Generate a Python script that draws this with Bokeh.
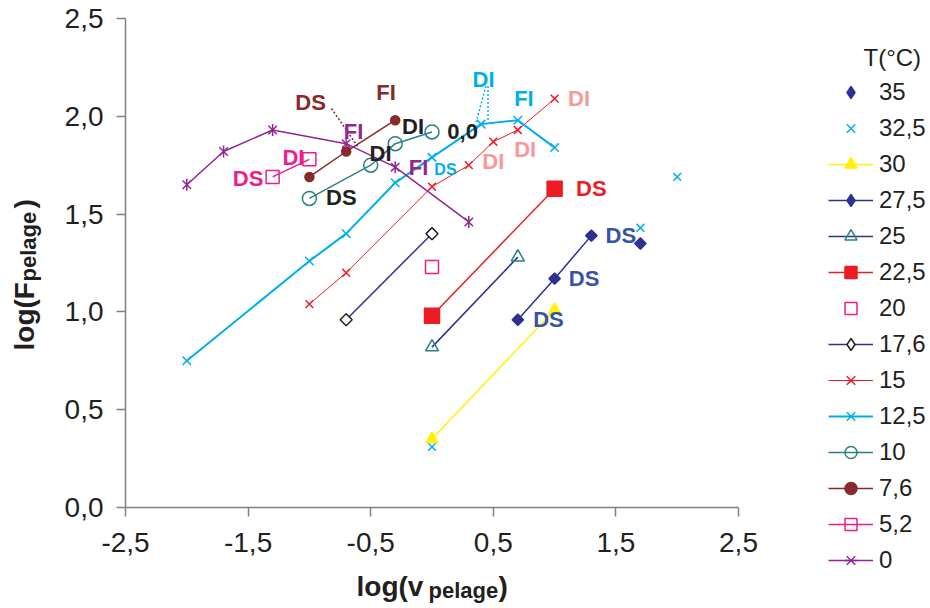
import math
from bokeh.plotting import figure
from bokeh.models import Range1d, FixedTicker, Legend, LegendItem, Label, ColumnDataSource
from bokeh.core.properties import value
from bokeh.embed import file_html
from bokeh.resources import INLINE

# ---------------- data ----------------
x_35 = [1.7];                 y_35 = [1.35]
x_325 = [0.0, 1.7, 2.0];      y_325 = [0.31, 1.43, 1.69]
x_30 = [0.0, 1.0];            y_30 = [0.35, 1.01]
x_275 = [0.7, 1.0, 1.3];      y_275 = [0.96, 1.17, 1.39]
x_25 = [0.0, 0.7];            y_25 = [0.82, 1.28]
x_225 = [0.0, 1.0];           y_225 = [0.98, 1.63]
x_20 = [0.0];                 y_20 = [1.23]
x_176 = [-0.7, 0.0];          y_176 = [0.96, 1.40]
x_15 = [-1.0, -0.7, 0.0, 0.3, 0.5, 0.7, 1.0]
y_15 = [1.04, 1.20, 1.64, 1.75, 1.87, 1.93, 2.09]
x_125 = [-2.0, -1.0, -0.7, -0.3, 0.0, 0.4, 0.7, 1.0]
y_125 = [0.75, 1.26, 1.40, 1.66, 1.79, 1.96, 1.98, 1.84]
x_10 = [-1.0, -0.5, -0.3, 0.0];   y_10 = [1.58, 1.75, 1.86, 1.92]
x_76 = [-1.0, -0.7, -0.3];        y_76 = [1.69, 1.82, 1.98]
x_52 = [-1.3, -1.0];              y_52 = [1.69, 1.78]
x_0 = [-2.0, -1.7, -1.3, -0.7, -0.3, 0.3]
y_0 = [1.65, 1.82, 1.93, 1.86, 1.74, 1.46]

x_ticks = [-2.5, -1.5, -0.5, 0.5, 1.5, 2.5]
x_tick_labels = ["-2,5", "-1,5", "-0,5", "0,5", "1,5", "2,5"]
y_ticks = [0.0, 0.5, 1.0, 1.5, 2.0, 2.5]
y_tick_labels = ["0,0", "0,5", "1,0", "1,5", "2,0", "2,5"]

# annotation labels
ann_x = [-0.99, -0.375, -0.155, 0.25, -0.64, -0.42, -0.11, -0.74, -1.13, -1.50,
         0.42, 0.75, 1.20, 0.76, 0.50, 1.30, 1.54, 1.24, 0.95]
ann_y = [2.07, 2.12, 1.95, 1.92, 1.92, 1.81, 1.74, 1.585, 1.79, 1.68,
         2.19, 2.09, 2.09, 1.83, 1.77, 1.63, 1.39, 1.17, 0.96]
ann_text = ["DS", "FI", "DI", "0,0", "FI", "DI", "FI", "DS", "DI", "DS",
            "DI", "FI", "DI", "DI", "DI", "DS", "DS", "DS", "DS"]
ann_color = ["#862a2a", "#862a2a", "#231f20", "#231f20", "#92278f", "#231f20", "#92278f",
             "#231f20", "#ec1e8c", "#ec1e8c", "#00aeef", "#00aeef", "#f49a98", "#f49a98",
             "#f49a98", "#ed1c24", "#3953a4", "#3953a4", "#3953a4"]
small_x = [0.11]; small_y = [1.73]; small_text = ["DS"]

# leader lines (dotted)
lead_x0 = [-0.82, 0.44, 0.457]; lead_y0 = [2.04, 2.155, 2.155]
lead_x1 = [-0.60, 0.36, 0.457]; lead_y1 = [1.84, 1.97, 1.98]
lead_color = ["#862a2a", "#00aeef", "#00aeef"]

# ---------------- colours ----------------
NAVY = "#2e3192"; CYAN = "#00aeef"; YELLOW = "#fff200"; TEAL = "#2b8080"
RED = "#ed1c24"; PINK = "#ec1e8c"; BLACK = "#231f20"; BROWN = "#862a2a"; PURPLE = "#92278f"
FONT = "Liberation Sans"

# ---------------- geometry (pixels) ----------------
W, H = 928, 606
AX_LEFT, AX_BOTTOM = 125, 507          # pixel position of x=-2.5 and y=0
PX_X, PX_Y = 122.6, 195.6              # pixels per unit
x_start = -2.5 - AX_LEFT / PX_X
x_end = -2.5 + (W - AX_LEFT) / PX_X
y_start = -(H - AX_BOTTOM) / PX_Y
y_end = AX_BOTTOM / PX_Y

p = figure(width=W, height=H, x_range=Range1d(x_start, x_end),
           y_range=Range1d(y_start, y_end),
           output_backend="svg", toolbar_location=None, min_border=0)
p.grid.visible = False
p.outline_line_color = None

for ax in (p.xaxis[0], p.yaxis[0]):
    ax.axis_line_color = "#808080"
    ax.axis_line_width = 1.5
    ax.major_tick_line_color = "#808080"
    ax.major_tick_line_width = 1.5
    ax.major_tick_out = 9
    ax.major_tick_in = 0
    ax.minor_tick_out = 0
    ax.minor_tick_in = 0
    ax.major_label_text_font = FONT
    ax.major_label_text_font_size = "28px"
    ax.major_label_text_color = BLACK
p.xaxis[0].fixed_location = 0.0
p.yaxis[0].fixed_location = -2.5
p.xaxis[0].bounds = (-2.5, 2.5)
p.yaxis[0].bounds = (0.0, 2.5)
p.xaxis[0].ticker = FixedTicker(ticks=x_ticks)
p.xaxis[0].major_label_overrides = dict(zip(x_ticks, x_tick_labels))
p.xaxis[0].major_label_standoff = 16
p.yaxis[0].ticker = FixedTicker(ticks=y_ticks)
p.yaxis[0].major_label_overrides = dict(zip(y_ticks, y_tick_labels))
p.yaxis[0].major_label_standoff = 13

DIAMOND = math.pi / 4
items = []

def add(label, xs, ys, line_color=None, line_width=1.5, marker=None, size=10,
        fill=None, mcolor=None, mline=1.5, extra=None, diamond=False):
    rs = []
    fill_kw = dict(fill_color=fill if fill is not None else "white",
                   fill_alpha=1.0 if (fill is not None or diamond) else 0.0)
    if line_color is not None:
        rs.append(p.line(xs, ys, line_color=line_color, line_width=line_width))
    if diamond:
        # a diamond glyph (hidden under the rotated square) gives the legend its shape
        rs.append(p.scatter(xs, ys, marker="diamond", size=size * 0.8,
                            line_color=mcolor, line_width=mline, **fill_kw))
        p.scatter(xs, ys, marker="square", size=size, angle=DIAMOND,
                  line_color=mcolor, line_width=mline, **fill_kw)
    else:
        rs.append(p.scatter(xs, ys, marker=marker, size=size,
                            line_color=mcolor, line_width=mline, **fill_kw))
    if extra is not None:
        rs.append(p.scatter(xs, ys, marker=extra, size=size, angle=math.pi / 2,
                            line_color=mcolor, line_width=mline))
    items.append(LegendItem(label=label, renderers=rs))

add("35", x_35, y_35, None, size=8, fill=NAVY, mcolor=NAVY, diamond=True)
add("32,5", x_325, y_325, None, marker="x", size=11, mcolor=CYAN)
add("30", x_30, y_30, YELLOW, 1.5, marker="triangle", size=12, fill=YELLOW, mcolor=YELLOW)
add("27,5", x_275, y_275, NAVY, 1.5, size=8, fill=NAVY, mcolor=NAVY, diamond=True)
add("25", x_25, y_25, NAVY, 1.5, marker="triangle", size=13, mcolor=TEAL)
add("22,5", x_225, y_225, RED, 1.5, marker="square", size=15, fill=RED, mcolor=RED)
add("20", x_20, y_20, None, marker="square", size=13, mcolor=PINK)
add("17,6", x_176, y_176, NAVY, 1.5, size=8.5, mcolor=BLACK, diamond=True)
add("15", x_15, y_15, RED, 1.0, marker="x", size=11, mcolor=RED)
add("12,5", x_125, y_125, CYAN, 2.0, marker="x", size=12, mcolor=CYAN)
add("10", x_10, y_10, TEAL, 1.5, marker="circle", size=14, mcolor=TEAL)
add("7,6", x_76, y_76, BROWN, 1.5, marker="circle", size=9, fill=BROWN, mcolor=BROWN)
add("5,2", x_52, y_52, PINK, 1.5, marker="square", size=13, mcolor=PINK)
add("0", x_0, y_0, PURPLE, 1.5, marker="x", size=12, mcolor=PURPLE, extra="dash")

# leader lines
p.segment(lead_x0, lead_y0, lead_x1, lead_y1, line_color=lead_color,
          line_width=1.5, line_dash="2 2")

# annotation texts
src = ColumnDataSource(dict(x=ann_x, y=ann_y, text=ann_text, color=ann_color))
p.text("x", "y", text="text", source=src, text_color="color",
       text_font=value(FONT), text_font_size="22px", text_font_style="bold",
       text_align="center", text_baseline="middle")
p.text(small_x, small_y, text=small_text, text_color=CYAN,
       text_font=value(FONT), text_font_size="16px", text_font_style="bold",
       text_align="center", text_baseline="middle")

# legend (positions in screen pixels from bottom-left)
legend = Legend(items=items, location=(828, H - 575), glyph_width=45, glyph_height=30,
                label_height=30, spacing=6, label_standoff=6, padding=0, margin=0,
                label_text_font=FONT, label_text_font_size="24px",
                label_text_color=BLACK, border_line_color=None,
                background_fill_alpha=0.0)
p.add_layout(legend)
p.add_layout(Label(x=863, y=H - 57, x_units="screen", y_units="screen", text="T(°C)",
                   text_font=FONT, text_font_size="24px", text_color=BLACK,
                   text_baseline="middle", text_align="left"))

# axis titles (with subscripts)
def title_part(x, y, text, size, angle=0.0):
    p.add_layout(Label(x=x, y=H - y, x_units="screen", y_units="screen", text=text,
                       angle=angle, text_font=FONT, text_font_size=size,
                       text_font_style="bold", text_color=BLACK,
                       text_align="left", text_baseline="alphabetic"))

title_part(356, 586, "log(v", "28px")
title_part(428, 590, "pelage", "22px")
title_part(498, 586, ")", "28px")
title_part(24, 350, "log(F", "28px", math.pi / 2)
title_part(28, 281, "pelage", "22px", math.pi / 2)
title_part(24, 208, ")", "28px", math.pi / 2)

open("out.html", "w").write(file_html(p, INLINE))
